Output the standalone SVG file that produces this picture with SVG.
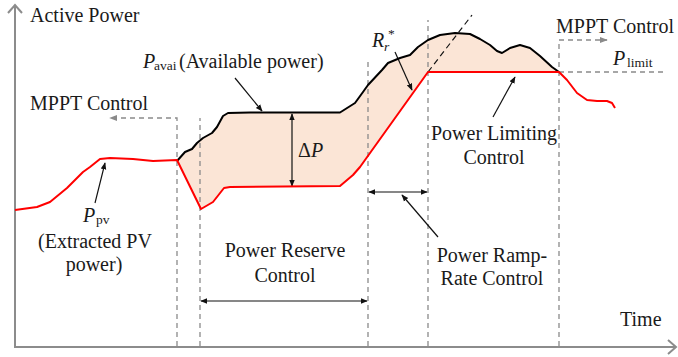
<svg xmlns="http://www.w3.org/2000/svg" width="678" height="357" viewBox="0 0 678 357">
<defs>
<marker id="ah" viewBox="0 0 10 10" refX="9" refY="5" markerWidth="7" markerHeight="7" orient="auto-start-reverse" markerUnits="userSpaceOnUse">
<path d="M0,1 L10,5 L0,9 Z" fill="#111"/>
</marker>
<marker id="ahg" viewBox="0 0 10 10" refX="9" refY="5" markerWidth="8" markerHeight="8" orient="auto-start-reverse" markerUnits="userSpaceOnUse">
<path d="M0,1 L10,5 L0,9 Z" fill="#8a8a8a"/>
</marker>
</defs>
<style>
text{font-family:'Liberation Serif','Times New Roman','DejaVu Serif',serif;font-size:20px;fill:#1a1a1a}
.it{font-style:italic}
.sub{font-size:13.5px}
.mid{text-anchor:middle}
.axis{stroke:#8c8c8c;stroke-width:2;fill:none}
.dash{stroke:#8a8a8a;stroke-width:1.3;stroke-dasharray:5,4;fill:none}
.ptr{stroke:#111;stroke-width:1.2;fill:none}
</style>
<rect width="678" height="357" fill="#fff"/>
<g id="fill">
<path d="M177,161 L185,152 L192,149 L197,143 L203,138 L212,133 L217,127 L223,116 L228,113 L250,112.5 L340,112.5 L355,103 L363,92 L368,85 L382,70 L388,63 L400,58 L410,55 L418,47 L428,40 L440,35 L455,33 L470,34 L480,39 L490,45 L497,51 L502,53 L510,48 L520,45 L530,48 L540,56 L552,67 L559,72 L428,72 L360,167 L353,175 L340,186 L230,187 L224,188 L213,202 L201,209 Z" fill="#FBE5D6"/>
</g>
<g id="axes">
<path class="axis" d="M15,347 L15,5 M8,13 L15,5 L22,13"/>
<path class="axis" d="M14,347 L676,347 M668,340 L676,347 L668,354"/>
</g>
<g id="connectors">
<path class="dash" d="M177,346 L177,118 L110,118" marker-end="url(#ahg)"/>
<path class="dash" d="M200,346 L200,118"/>
<path class="dash" d="M368,346 L368,58"/>
<path class="dash" d="M428,346 L428,20"/>
<path class="dash" d="M559,346 L559,40 L607,40" marker-end="url(#ahg)"/>
<path class="dash" d="M559,72 L664,72" stroke-width="1.8" stroke="#777"/>
<path d="M428,72 L472,15" stroke="#111" stroke-width="1.2" stroke-dasharray="6,4" fill="none"/>
<path class="ptr" d="M292,114 L292,186" stroke="#444" marker-start="url(#ah)" marker-end="url(#ah)"/>
<path class="ptr" d="M201,301 L367,301" marker-start="url(#ah)" marker-end="url(#ah)"/>
<path class="ptr" d="M369,192 L427,192" marker-start="url(#ah)" marker-end="url(#ah)"/>
<path class="ptr" d="M438,237 L402,195" marker-end="url(#ah)"/>
<path class="ptr" d="M493,117 L515,77" marker-end="url(#ah)"/>
<path class="ptr" d="M395,52 L412,90" marker-end="url(#ah)"/>
<path class="ptr" d="M235,78 L262,111" marker-end="url(#ah)"/>
<path class="ptr" d="M95,203 L105,163" marker-end="url(#ah)"/>
</g>
<g id="curves">
<path d="M177,161 L185,152 L192,149 L197,143 L203,138 L212,133 L217,127 L223,116 L228,113 L250,112.5 L340,112.5 L355,103 L363,92 L368,85 L382,70 L388,63 L400,58 L410,55 L418,47 L428,40 L440,35 L455,33 L470,34 L480,39 L490,45 L497,51 L502,53 L510,48 L520,45 L530,48 L540,56 L552,67 L559,72" stroke="#000" stroke-width="2" fill="none" stroke-linejoin="round"/>
<path d="M15,210 L37,207 L50,202 L67,188 L83,172 L90,167 L100,159 L110,158 L133,159 L153,161 L177,160 L201,209 L213,202 L224,188 L230,187 L340,186 L353,175 L360,167 L428,72 L559,72 L567,80 L577,93 L587,100 L597,101 L607,101 L612,103 L615,108" stroke="#ff0000" stroke-width="2" fill="none" stroke-linejoin="round"/>
</g>
<g id="labels">
<text x="30" y="22" font-size="21">Active Power</text>
<text x="30" y="110">MPPT Control</text>
<text x="556" y="33">MPPT Control</text>
<text class="it" x="613" y="65">P</text><text class="sub" x="627" y="67">limit</text>
<text class="it" x="143" y="68">P</text><text class="sub" x="154" y="70" font-size="13">avai</text>
<text x="179" y="68" font-size="20.5">(Available power)</text>
<text class="it" x="372" y="47">R</text><text class="it sub" x="384" y="51">r</text><text class="sub" x="388" y="38">*</text>
<text x="298" y="157">Δ<tspan class="it">P</tspan></text>
<text class="mid" x="494" y="140">Power Limiting</text>
<text class="mid" x="494" y="164">Control</text>
<text class="it" x="83" y="222">P</text><text class="sub" x="96" y="224">pv</text>
<text class="mid" x="95" y="248">(Extracted PV</text>
<text class="mid" x="94" y="271">power)</text>
<text class="mid" x="285" y="257">Power Reserve</text>
<text class="mid" x="285" y="282">Control</text>
<text class="mid" x="492" y="262">Power Ramp-</text>
<text class="mid" x="492" y="285">Rate Control</text>
<text x="620" y="326">Time</text>
</g>
</svg>
